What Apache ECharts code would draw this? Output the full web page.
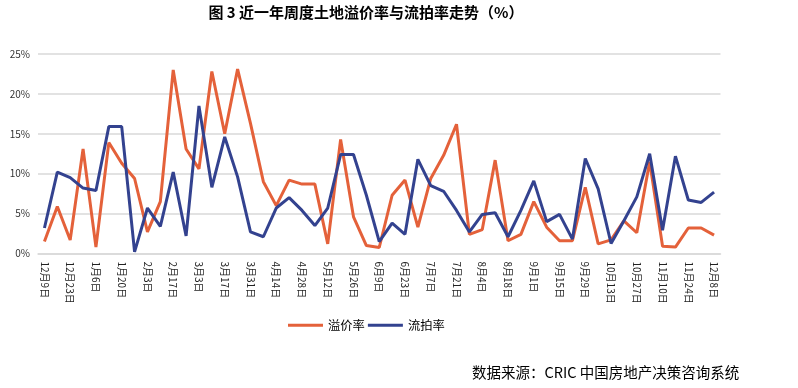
<!DOCTYPE html>
<html>
<head>
<meta charset="utf-8">
<script src="https://cdn.jsdelivr.net/npm/echarts@6/dist/echarts.min.js"></script>
<style>
html,body{margin:0;padding:0;background:#fff;}
#c{width:798px;height:388px;}
</style>
</head>
<body>
<div id="c"></div>
<script>
const categories = ['12月9日','12月16日','12月23日','12月30日','1月6日','1月13日','1月20日','1月27日','2月3日','2月10日','2月17日','2月24日','3月3日','3月10日','3月17日','3月24日','3月31日','4月7日','4月14日','4月21日','4月28日','5月5日','5月12日','5月19日','5月26日','6月2日','6月9日','6月16日','6月23日','6月30日','7月7日','7月14日','7月21日','7月28日','8月4日','8月11日','8月18日','8月25日','9月1日','9月8日','9月15日','9月22日','9月29日','10月6日','10月13日','10月20日','10月27日','11月3日','11月10日','11月17日','11月24日','12月1日','12月8日'];
const premiumRate = [1.5,5.9,1.7,13.1,0.8,13.9,11.3,9.4,2.7,6.5,23.0,13.1,10.6,22.8,15.0,23.1,16.3,9.0,6.0,9.2,8.7,8.7,1.2,14.3,4.6,1.0,0.75,7.3,9.2,3.3,9.4,12.3,16.2,2.4,3.0,11.7,1.6,2.4,6.5,3.3,1.6,1.6,8.3,1.2,1.7,4.1,2.6,11.5,0.9,0.8,3.2,3.2,2.3];
const failRate = [3.2,10.2,9.5,8.2,7.9,15.9,15.9,0.2,5.7,3.4,10.2,2.2,18.5,8.3,14.6,9.6,2.7,2.1,5.7,7.0,5.4,3.5,5.7,12.4,12.4,7.3,1.5,3.8,2.4,11.8,8.5,7.8,5.4,2.7,4.9,5.1,2.1,5.4,9.1,4.0,4.9,1.8,11.9,8.1,1.25,4.1,7.1,12.5,2.9,12.2,6.7,6.4,7.7];
const seriesNames = ['溢价率','流拍率'];
const titleText = '图 3 近一年周度土地溢价率与流拍率走势（%）';
const sourceText = '数据来源：CRIC 中国房地产决策咨询系统';

const chart = echarts.init(document.getElementById('c'), null, {renderer:'canvas'});
const font = '"Noto Sans CJK SC","Noto Sans",sans-serif';
chart.setOption({
  animation:false,
  backgroundColor:'#fff',
  title:{
    text:titleText, left:366, top:5, textAlign:'center', padding:0,
    textStyle:{fontSize:15, fontWeight:'bold', color:'#000', fontFamily:font}
  },
  legend:{
    data:seriesNames, left:288, top:319, padding:0, icon:'rect', itemWidth:35, itemHeight:3, itemGap:3,
    textStyle:{fontSize:12.3, color:'#000', fontFamily:font}
  },
  graphic:[{
    type:'text', left:472, top:365,
    style:{text:sourceText, fontSize:14.5, fill:'#000', fontFamily:font}
  }],
  grid:{left:38, right:77.5, top:54, bottom:134.5},
  xAxis:{
    type:'category', data:categories, boundaryGap:true,
    axisLine:{lineStyle:{color:'#d9d9d9', width:1.5}},
    axisTick:{show:false},
    axisLabel:{interval:1, rotate:-90, fontSize:10, color:'#222', fontFamily:font, margin:8}
  },
  yAxis:{
    type:'value', min:0, max:25, interval:5,
    axisLine:{show:false}, axisTick:{show:false},
    axisLabel:{formatter:'{value}%', fontSize:10, color:'#333', fontFamily:font, margin:8},
    splitLine:{lineStyle:{color:'#d9d9d9', width:1.5}}
  },
  series:[
    {name:seriesNames[0], type:'line', data:premiumRate, showSymbol:false, symbol:'none',
     lineStyle:{width:3, color:'#E4613A'}, itemStyle:{color:'#E4613A'}},
    {name:seriesNames[1], type:'line', data:failRate, showSymbol:false, symbol:'none',
     lineStyle:{width:3, color:'#33428F'}, itemStyle:{color:'#33428F'}}
  ]
});
</script>
</body>
</html>
